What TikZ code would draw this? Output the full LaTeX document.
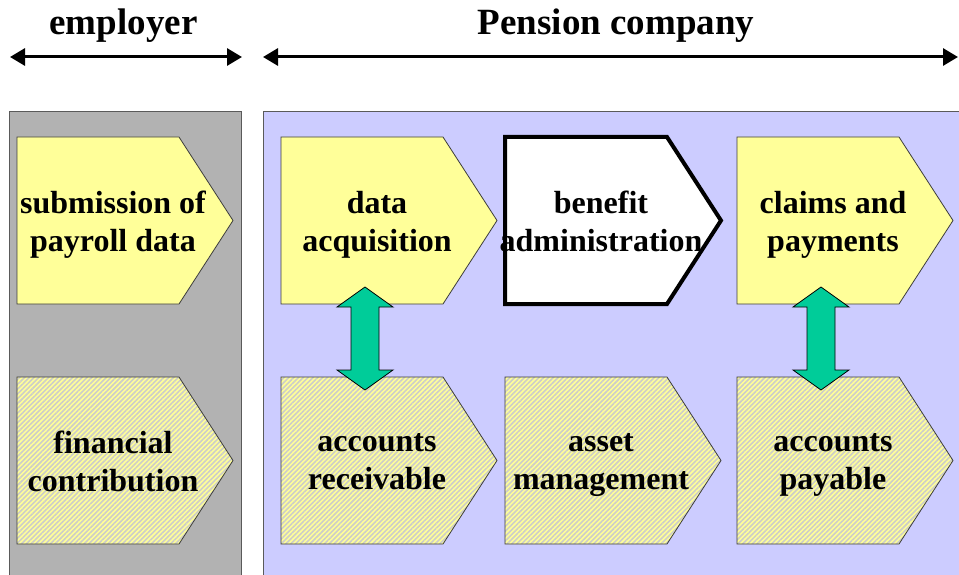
\documentclass[tikz,border=0pt]{standalone}
\usepackage{fontspec}
\setmainfont{Liberation Serif}
\usetikzlibrary{arrows.meta,patterns.meta,calc}
\definecolor{panelgray}{RGB}{178,178,178}
\definecolor{panelblue}{RGB}{204,204,255}
\definecolor{paneledge}{RGB}{90,90,90}
\definecolor{boxyellow}{RGB}{255,255,153}
\definecolor{boxedge}{RGB}{60,60,60}
\definecolor{hatchgray}{RGB}{205,205,200}
\definecolor{linkgreen}{RGB}{0,204,153}
\tikzset{
  panel/.style={draw=paneledge, line width=1pt},
  plain/.style={fill=boxyellow, draw=boxedge, line width=0.8pt},
  hatched/.style={preaction={fill=boxyellow},
    pattern={Lines[angle=45,distance=3.4pt,line width=1.6pt]},
    pattern color=hatchgray, draw=boxedge, line width=0.8pt},
  focus/.style={fill=white, draw=black, line width=4pt, miter limit=10},
  boxtext/.style={font=\fontsize{32}{38}\selectfont\bfseries, align=center,
    inner sep=0pt, execute at begin node=\strut, execute at end node=\strut},
  headtext/.style={font=\fontsize{37}{44}\selectfont\bfseries, anchor=base, inner sep=0pt},
  spanarrow/.style={line width=3pt,
    {Triangle[length=15pt,width=17pt]}-{Triangle[length=15pt,width=17pt]}},
  link/.style={fill=linkgreen, draw=black, line width=0.8pt},
  % process step: pentagon pointing right, label set left of centre
  pics/pentbox/.style={code={
    \path[#1] (0,0) coordinate (-nw) -- (162,0) -- (216,83.5) coordinate (-tip)
      -- (162,167) -- (0,167) coordinate (-sw) -- cycle;
    \node[boxtext] (-label) at (96,90) {\tikzpictext};
  }},
  % two-headed block arrow between stacked steps
  pics/updown/.style={code={
    \path[pic actions] (0,-51.5) -- (28,-31.5) -- (14,-31.5) -- (14,31.5)
      -- (28,31.5) -- (0,51.5) -- (-28,31.5) -- (-14,31.5) -- (-14,-31.5)
      -- (-28,-31.5) -- cycle;
  }}
}
\begin{document}
\begin{tikzpicture}[x=1pt,y=-1pt]
\useasboundingbox (0,0) rectangle (959,575);
\clip (0,0) rectangle (959,575);

% headings with their extent arrows
\node[headtext] (emp) at (123.5,35) {employer};
\node[headtext] (pen) at (616,35) {Pension company};
\coordinate (empL) at (10,57);
\coordinate (empR) at (242,57);
\coordinate (penL) at (263,57);
\coordinate (penR) at (958,57);
\draw[spanarrow] (empL) -- (empR);
\draw[spanarrow] (penL) -- (penR);

% background panels
\draw[panel, fill=panelgray] (9,112) rectangle (241,590);
\draw[panel, fill=panelblue] (263,112) rectangle (975,590);

% process steps, top row
\pic[pic text={submission of\\payroll data}] (sp) at (17,137) {pentbox=plain};
\pic[pic text={data\\acquisition}] (da) at (281,137) {pentbox=plain};
\pic[pic text={benefit\\administration}] (ba) at (505,137) {pentbox=focus};
\pic[pic text={claims and\\payments}] (cp) at (737,137) {pentbox=plain};

% financial steps, bottom row
\pic[pic text={financial\\contribution}] (fc) at (17,377) {pentbox=hatched};
\pic[pic text={accounts\\receivable}] (ar) at (281,377) {pentbox=hatched};
\pic[pic text={asset\\management}] (am) at (505,377) {pentbox=hatched};
\pic[pic text={accounts\\payable}] (ap) at (737,377) {pentbox=hatched};

% links between the rows
\pic[link] (lk1) at ($(da-sw)!0.5!(ar-nw)+(84,-2)$) {updown};
\pic[link] (lk2) at ($(cp-sw)!0.5!(ap-nw)+(84,-2)$) {updown};
\end{tikzpicture}
\end{document}
